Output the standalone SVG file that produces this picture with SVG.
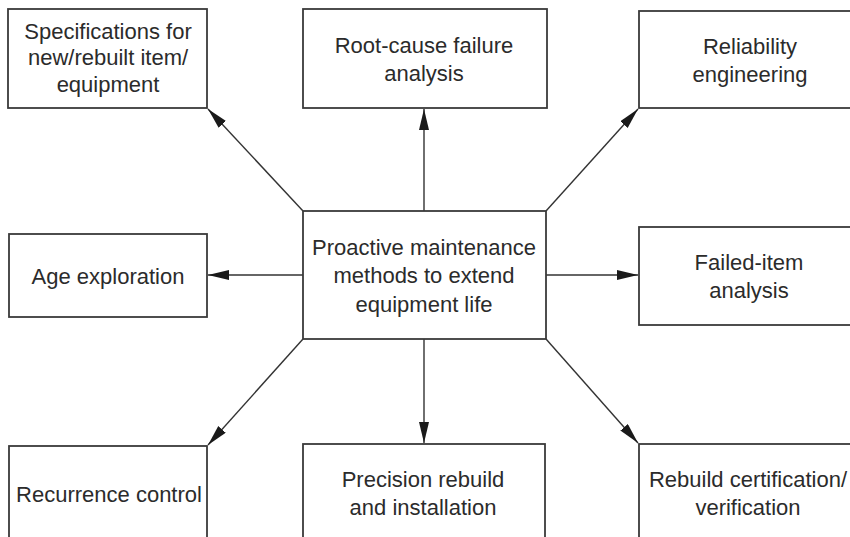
<svg xmlns="http://www.w3.org/2000/svg" width="850" height="537" viewBox="0 0 850 537">
<defs>
<style>
.box{fill:#fff;stroke:#3a3a3a;stroke-width:1.8}
.t{font-family:"Liberation Sans",Arial,sans-serif;font-size:22px;fill:#2b2b2b;text-anchor:middle}
.c{stroke:#333;stroke-width:1.4;fill:none;marker-end:url(#ah)}
</style>
<marker id="ah" markerUnits="userSpaceOnUse" markerWidth="22" markerHeight="11" refX="21" refY="5" orient="auto">
<path d="M0,0 L21,5 L0,10 Z" fill="#1a1a1a"/>
</marker>
</defs>
<rect width="850" height="537" fill="#fff"/>
<g id="connectors">
<line class="c" x1="424" y1="211" x2="424" y2="109"/>
<line class="c" x1="424" y1="339" x2="424" y2="443"/>
<line class="c" x1="303" y1="275" x2="208" y2="275"/>
<line class="c" x1="546" y1="275" x2="638" y2="275"/>
<line class="c" x1="303" y1="211" x2="208" y2="109"/>
<line class="c" x1="546" y1="211" x2="638" y2="109"/>
<line class="c" x1="303" y1="339" x2="208" y2="445"/>
<line class="c" x1="546" y1="339" x2="638" y2="443"/>
</g>
<g id="center">
<rect class="box" x="303" y="211" width="243" height="128"/>
<text class="t" x="424" y="255">Proactive maintenance</text>
<text class="t" x="424" y="283">methods to extend</text>
<text class="t" x="424" y="312">equipment life</text>
</g>
<g id="spec">
<rect class="box" x="8" y="9" width="199" height="99"/>
<text class="t" x="108" y="39">Specifications for</text>
<text class="t" x="108" y="65">new/rebuilt item/</text>
<text class="t" x="108" y="92">equipment</text>
</g>
<g id="rootcause">
<rect class="box" x="303" y="9" width="244" height="99"/>
<text class="t" x="424" y="53">Root-cause failure</text>
<text class="t" x="424" y="81">analysis</text>
</g>
<g id="reliability">
<rect class="box" x="639" y="11" width="222" height="97"/>
<text class="t" x="750" y="54">Reliability</text>
<text class="t" x="750" y="82">engineering</text>
</g>
<g id="age">
<rect class="box" x="9" y="234" width="198" height="83"/>
<text class="t" x="108" y="284">Age exploration</text>
</g>
<g id="faileditem">
<rect class="box" x="639" y="227" width="222" height="98"/>
<text class="t" x="749" y="270">Failed-item</text>
<text class="t" x="749" y="298">analysis</text>
</g>
<g id="recurrence">
<rect class="box" x="9" y="446" width="198" height="110"/>
<text class="t" x="109" y="502">Recurrence control</text>
</g>
<g id="precision">
<rect class="box" x="303" y="444" width="242" height="110"/>
<text class="t" x="423" y="487">Precision rebuild</text>
<text class="t" x="423" y="515">and installation</text>
</g>
<g id="rebuild">
<rect class="box" x="639" y="444" width="222" height="110"/>
<text class="t" x="748" y="487">Rebuild certification/</text>
<text class="t" x="748" y="515">verification</text>
</g>
</svg>
